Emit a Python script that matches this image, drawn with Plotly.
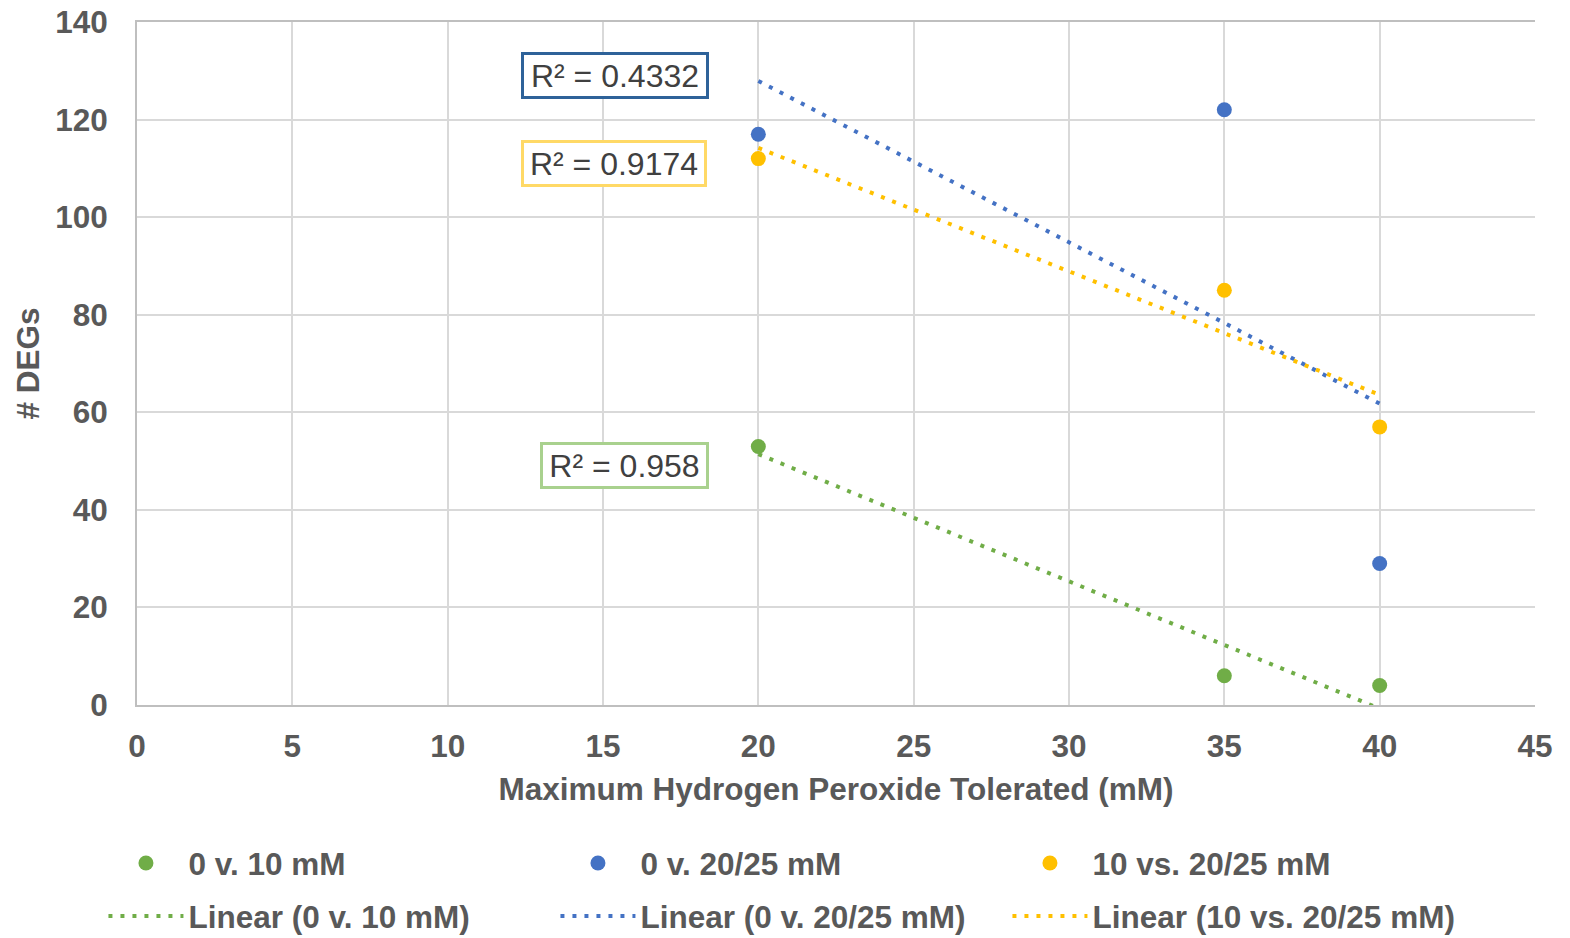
import numpy as np
import plotly.graph_objects as go

x_vals = [20, 35, 40]
series_names = ["0 v. 10 mM", "0 v. 20/25 mM", "10 vs. 20/25 mM"]
green_vals = [53, 6, 4]
blue_vals = [117, 122, 29]
yellow_vals = [112, 85, 57]
r2_labels = ["R² = 0.958", "R² = 0.4332", "R² = 0.9174"]
x_ticks = [0, 5, 10, 15, 20, 25, 30, 35, 40, 45]
y_ticks = [0, 20, 40, 60, 80, 100, 120, 140]

colors = ["#70ad47", "#4472c4", "#ffc000"]
box_colors = ["#a9d18e", "#2e6299", "#ffd966"]
text_color = "#595959"
FONT = "Liberation Sans, Arial, sans-serif"

fig = go.Figure()
all_vals = [green_vals, blue_vals, yellow_vals]

for name, vals, c in zip(series_names, all_vals, colors):
    fig.add_trace(go.Scatter(
        x=x_vals, y=vals, mode="markers", name=name,
        marker=dict(color=c, size=15), legend="legend"))

xs = np.array(x_vals, dtype=float)
for name, vals, c in zip(series_names, all_vals, colors):
    slope, inter = np.polyfit(xs, np.array(vals, dtype=float), 1)
    fx = [xs.min(), xs.max()]
    fy = [slope * v + inter for v in fx]
    fig.add_trace(go.Scatter(
        x=fx, y=fy, mode="lines", name=f"Linear ({name})",
        line=dict(color=c, width=4, dash="4px,8px"), legend="legend2"))

# R² annotation positions (data coords)
ann_pos = [(15.69, 49.0, 159), (15.39, 129.1, 178), (15.35, 110.9, 176)]
for (ax_, ay_, w), lab, bc in zip(ann_pos, r2_labels, box_colors):
    fig.add_annotation(x=ax_, y=ay_, xref="x", yref="y", text=lab, showarrow=False,
                       font=dict(family=FONT, size=32, color="#404040"),
                       bgcolor="white", bordercolor=bc, borderwidth=3, borderpad=2,
                       width=w, height=37)

bold_font = dict(family=FONT, size=31.5, color=text_color, weight="bold")

axis_common = dict(
    showgrid=True, gridcolor="#d9d9d9", gridwidth=2,
    showline=True, linecolor="#bfbfbf", linewidth=2,
    zeroline=False,
    ticks="outside", tickcolor="rgba(0,0,0,0)",
    tickfont=bold_font, ticklabeloverflow="allow",
)

legend_common = dict(orientation="h", xanchor="left", yanchor="middle",
                     entrywidth=362, entrywidthmode="pixels", itemwidth=75,
                     font=bold_font, bgcolor="rgba(0,0,0,0)")

fig.update_layout(
    width=1562, height=930,
    margin=dict(l=129, r=35, t=14, b=233, autoexpand=False),
    paper_bgcolor="white", plot_bgcolor="white",
    font=dict(family=FONT, color=text_color),
    xaxis=dict(range=[0, 45], tickvals=x_ticks, ticklen=12, mirror=True,
               title=dict(text="Maximum Hydrogen Peroxide Tolerated (mM)",
                          font=bold_font, standoff=15),
               **axis_common),
    yaxis=dict(range=[0, 140], tickvals=y_ticks, ticklen=21,
               title=dict(text="# DEGs", font=bold_font, standoff=6),
               **axis_common),
    legend=dict(x=-0.024, y=-0.2313, **legend_common),
    legend2=dict(x=-0.024, y=-0.309, **legend_common),
    showlegend=True,
)

fig.write_html("out.html")
